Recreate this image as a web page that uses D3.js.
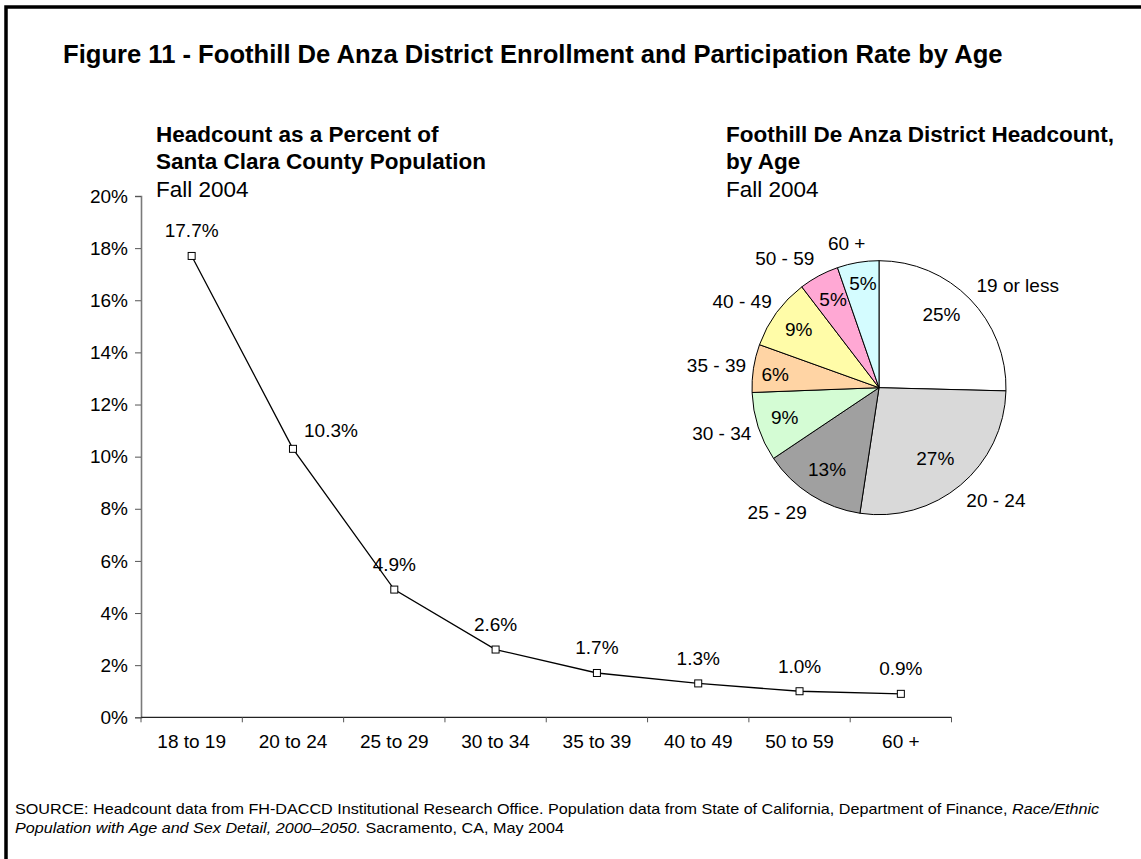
<!DOCTYPE html>
<html><head><meta charset="utf-8">
<script src="https://cdn.jsdelivr.net/npm/d3@7"></script>
<style>
body{margin:0;background:#fff}
svg{display:block}
text{font-family:"Liberation Sans",Arial,Helvetica,sans-serif;fill:#000}
</style></head><body>
<svg id="c" width="1141" height="859"></svg>
<script>
// ---- data ----
const ageGroups = ["18 to 19","20 to 24","25 to 29","30 to 34","35 to 39","40 to 49","50 to 59","60 +"];
const participationRate = [17.7,10.3,4.9,2.6,1.7,1.3,1.0,0.9];
const yTickValues = [0,2,4,6,8,10,12,14,16,18,20];
const pieCategories = ["19 or less","20 - 24","25 - 29","30 - 34","35 - 39","40 - 49","50 - 59","60 +"];
const pieShares = [25.4,27.0,13.2,8.8,6.1,9.1,5.1,5.3];
const pieColors = ["#ffffff","#d9d9d9","#a0a0a0","#d4fcd4","#ffd4a4","#fffca8","#ffa8d4","#d4fcff"];

const svg = d3.select("#c");
const FS = 19;

// frame (left and top edges visible)
svg.append("rect").attr("x",6).attr("y",7).attr("width",1200).attr("height",900)
  .attr("fill","none").attr("stroke","#000").attr("stroke-width",3.5);

// main title
svg.append("text").attr("x",63).attr("y",63).attr("font-size",25.6).attr("font-weight","bold")
  .text("Figure 11 - Foothill De Anza District Enrollment and Participation Rate by Age");

// ---- line chart ----
const x = d3.scaleBand().domain(ageGroups).range([141,951.5]);
const y = d3.scaleLinear().domain([0,20]).range([717.3,196]);

const lt = svg.append("g");
lt.append("text").attr("x",156).attr("y",142).attr("font-size",22.5).attr("font-weight","bold").text("Headcount as a Percent of");
lt.append("text").attr("x",156).attr("y",169).attr("font-size",22.5).attr("font-weight","bold").text("Santa Clara County Population");
lt.append("text").attr("x",156).attr("y",196.5).attr("font-size",22.5).text("Fall 2004");

const yAxis = svg.append("g").attr("transform","translate(141,0)")
  .call(d3.axisLeft(y).tickValues(yTickValues).tickFormat(d=>d+"%").tickSize(6).tickPadding(7));
yAxis.selectAll("text").attr("font-size",FS).attr("font-family","Liberation Sans, Arial, sans-serif").attr("fill","#000");
yAxis.select(".domain").attr("stroke","#7a7a7a").attr("stroke-width",1.6);
yAxis.selectAll(".tick line").attr("stroke","#555");

const xAxis = svg.append("g").attr("transform","translate(0,717.3)");
xAxis.append("line").attr("x1",141).attr("x2",951.5).attr("stroke","#222").attr("stroke-width",1.3);
const bounds = ageGroups.map(d=>x(d)).concat([x(ageGroups[ageGroups.length-1])+x.bandwidth()]);
xAxis.selectAll("line.tk").data(bounds).join("line").attr("class","tk")
  .attr("x1",d=>d).attr("x2",d=>d).attr("y1",0).attr("y2",5).attr("stroke","#555");
xAxis.selectAll("text").data(ageGroups).join("text")
  .attr("x",d=>x(d)+x.bandwidth()/2).attr("y",31).attr("text-anchor","middle").attr("font-size",FS).text(d=>d);

const pts = ageGroups.map((g,i)=>({g, v:participationRate[i]}));
svg.append("path").datum(pts)
  .attr("d", d3.line().x(d=>x(d.g)+x.bandwidth()/2).y(d=>y(d.v)))
  .attr("fill","none").attr("stroke","#000").attr("stroke-width",1.3);
svg.selectAll("rect.mk").data(pts).join("rect").attr("class","mk")
  .attr("x",d=>x(d.g)+x.bandwidth()/2-3.5).attr("y",d=>y(d.v)-3.5)
  .attr("width",7).attr("height",7).attr("fill","#fff").attr("stroke","#000").attr("stroke-width",1);
// label nudge (label dragged aside in the source)
const labelNudge = {"20 to 24":[38,6.5]};
svg.selectAll("text.dl").data(pts).join("text").attr("class","dl")
  .attr("x",d=>x(d.g)+x.bandwidth()/2+((labelNudge[d.g]||[0,0])[0]))
  .attr("y",d=>y(d.v)-18.5+((labelNudge[d.g]||[0,0])[1]))
  .attr("text-anchor","middle").attr("font-size",FS)
  .text(d=>d.v.toFixed(1)+"%");

// ---- pie chart ----
const pt = svg.append("g");
pt.append("text").attr("x",726).attr("y",142).attr("font-size",22.5).attr("font-weight","bold").text("Foothill De Anza District Headcount,");
pt.append("text").attr("x",726).attr("y",169).attr("font-size",22.5).attr("font-weight","bold").text("by Age");
pt.append("text").attr("x",726).attr("y",196.5).attr("font-size",22.5).text("Fall 2004");

const cx = 879, cy = 387.7, r = 127;
const pieData = d3.pie().sort(null).value(d=>d.v)(pieCategories.map((c,i)=>({c, v:pieShares[i], col:pieColors[i]})));
const arc = d3.arc().innerRadius(0).outerRadius(r);
const pg = svg.append("g").attr("transform",`translate(${cx},${cy})`);
pg.selectAll("path").data(pieData).join("path").attr("d",arc)
  .attr("fill",d=>d.data.col).attr("stroke","#000").attr("stroke-width",1);

const pctNudge = {"19 or less":[-7,-6],"20 - 24":[-6,-4],"30 - 34":[-2,-1],"35 - 39":[-8,1],"40 - 49":[-2,-1],"50 - 59":[0,-3],"60 +":[0,-9]};
const inArc = d3.arc().innerRadius(97).outerRadius(97);
pg.selectAll("text.pct").data(pieData).join("text").attr("class","pct")
  .attr("transform",d=>{const c=inArc.centroid(d), n=pctNudge[d.data.c]||[0,0]; return `translate(${c[0]+n[0]},${c[1]+n[1]})`;})
  .attr("dy","0.36em").attr("text-anchor","middle").attr("font-size",FS)
  .text(d=>Math.round(d.data.v)+"%");

const catNudge = {"19 or less":9,"20 - 24":8,"25 - 29":-11,"30 - 34":4,"35 - 39":5,"40 - 49":0,"50 - 59":-14,"60 +":-6};
pg.selectAll("text.cat").data(pieData).join("text").attr("class","cat")
  .attr("font-size",FS).attr("text-anchor","middle").attr("dy","0.36em")
  .text(d=>d.data.c)
  .each(function(d){
    const a = (d.startAngle+d.endAngle)/2;
    const w = this.getComputedTextLength(), h = 14;
    const s = Math.sin(a), c = -Math.cos(a);
    const R = r + 13;
    d3.select(this).attr("x", R*s + s*w/2 + (catNudge[d.data.c]||0)).attr("y", R*c + c*h/2);
  });

// ---- source ----
const src = svg.append("g").attr("class","src");
const t1 = src.append("text").attr("x",15).attr("y",814).attr("font-size",14);
t1.append("tspan").text("SOURCE: Headcount data from FH-DACCD Institutional Research Office. Population data from State of California, Department of Finance, ");
t1.append("tspan").attr("font-style","italic").text("Race/Ethnic");
const t2 = src.append("text").attr("x",15).attr("y",833).attr("font-size",14);
t2.append("tspan").attr("font-style","italic").text("Population with Age and Sex Detail, 2000\u20132050.");
t2.append("tspan").text(" Sacramento, CA, May 2004");
const w1 = t1.node().getComputedTextLength();
const k = (1100-15)/w1;
src.attr("transform",`translate(${15-15*k},0) scale(${k},1)`);
</script>
</body></html>
